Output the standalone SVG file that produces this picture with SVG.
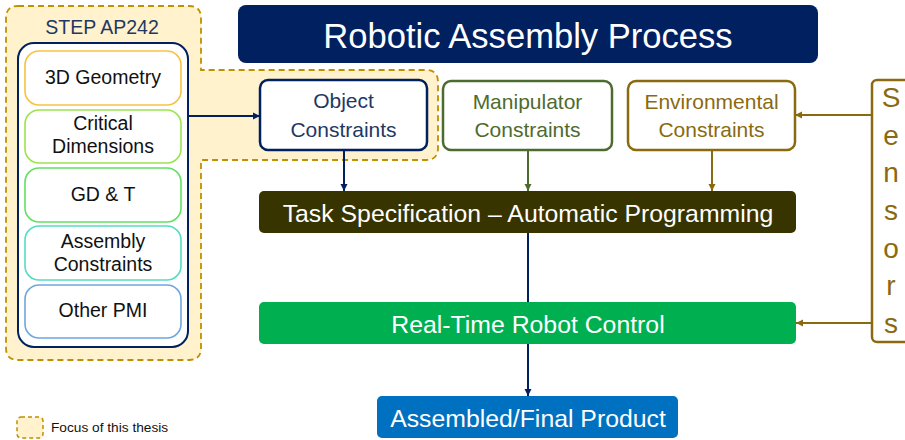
<svg xmlns="http://www.w3.org/2000/svg" width="905" height="440" viewBox="0 0 905 440">
<defs>
<style>
text{font-family:"Liberation Sans",Arial,sans-serif;text-anchor:middle}
.pmi{fill:#fff;stroke-width:1.6}
.pmit{font-size:19.5px;fill:#111}
.con{fill:#fff;stroke-width:2.5}
.cont{font-size:21px}
.wt{fill:#fff;font-size:24.8px}
.ln{fill:none;stroke-width:2}
</style>
<marker id="aN" markerUnits="userSpaceOnUse" markerWidth="8" markerHeight="8" refX="7" refY="4" orient="auto"><path d="M0,0.5 L7,4 L0,7.5 Z" fill="#002060"/></marker>
<marker id="aG" markerUnits="userSpaceOnUse" markerWidth="8" markerHeight="8" refX="7" refY="4" orient="auto"><path d="M0,0.5 L7,4 L0,7.5 Z" fill="#4e6b2f"/></marker>
<marker id="aB" markerUnits="userSpaceOnUse" markerWidth="8" markerHeight="8" refX="7" refY="4" orient="auto"><path d="M0,0.5 L7,4 L0,7.5 Z" fill="#8a6a10"/></marker>
</defs>
<rect width="905" height="440" fill="#fff"/>

<g id="focus">
<path d="M18,6 H189 Q201,6 201,18 V70 H426 Q438,70 438,82 V148 Q438,160 426,160 H201 V348 Q201,360 189,360 H18 Q6,360 6,348 V18 Q6,6 18,6 Z" fill="#fff2cc" stroke="#bf9000" stroke-width="1.8" stroke-dasharray="6,4"/>
</g>

<g id="title">
<rect x="238" y="5" width="580" height="58" rx="8" fill="#002060"/>
<text x="528" y="48" fill="#fff" font-size="34.6px">Robotic Assembly Process</text>
</g>

<g id="step">
<text x="102" y="34" font-size="19.5px" fill="#1f3864">STEP AP242</text>
<rect x="18" y="43" width="170" height="304" rx="16" fill="#fff" stroke="#002060" stroke-width="2"/>
</g>
<g id="geom"><rect class="pmi" x="25" y="51" width="156" height="54" rx="14" stroke="#f7c242"/><text class="pmit" x="103" y="84">3D Geometry</text></g>
<g id="crit"><rect class="pmi" x="25" y="110" width="156" height="53" rx="14" stroke="#9be34f"/><text class="pmit" x="103" y="130">Critical</text><text class="pmit" x="103" y="153">Dimensions</text></g>
<g id="gdt"><rect class="pmi" x="25" y="168" width="156" height="54" rx="14" stroke="#62e062"/><text class="pmit" x="103" y="201">GD &amp; T</text></g>
<g id="asm"><rect class="pmi" x="25" y="226" width="156" height="54" rx="14" stroke="#55dcc4"/><text class="pmit" x="103" y="248">Assembly</text><text class="pmit" x="103" y="271">Constraints</text></g>
<g id="pmi"><rect class="pmi" x="25" y="285" width="156" height="53" rx="14" stroke="#6fa6e0"/><text class="pmit" x="103" y="317">Other PMI</text></g>

<g id="object"><rect class="con" x="260" y="80" width="167" height="70" rx="8" stroke="#002060"/><text class="cont" x="343.5" y="108" fill="#1f3864">Object</text><text class="cont" x="343.5" y="137" fill="#1f3864">Constraints</text></g>
<g id="manip"><rect class="con" x="443" y="81" width="169" height="69" rx="8" stroke="#4e6b2f"/><text class="cont" x="527.5" y="109" fill="#4e6b2f">Manipulator</text><text class="cont" x="527.5" y="137" fill="#4e6b2f">Constraints</text></g>
<g id="env"><rect class="con" x="628" y="81" width="167" height="69" rx="8" stroke="#8a6a10"/><text class="cont" x="711.5" y="109" fill="#8a6a10">Environmental</text><text class="cont" x="711.5" y="137" fill="#8a6a10">Constraints</text></g>

<g id="sensors">
<rect x="872" y="80" width="60" height="262" rx="5" fill="#fff" stroke="#8a6a10" stroke-width="2.5"/>
<g font-size="28px" fill="#8a6a10">
<text x="891" y="107">S</text><text x="891" y="145">e</text><text x="891" y="182">n</text><text x="891" y="220">s</text><text x="891" y="258">o</text><text x="891" y="295">r</text><text x="891" y="333">s</text>
</g>
</g>

<g id="task"><rect x="259" y="191" width="537" height="42" rx="5" fill="#383400"/><text class="wt" x="528" y="222">Task Specification – Automatic Programming</text></g>
<g id="control"><rect x="259" y="302" width="537" height="42" rx="5" fill="#00b050"/><text class="wt" x="528" y="333">Real-Time Robot Control</text></g>
<g id="product"><rect x="377" y="396" width="301" height="42" rx="5" fill="#0070c0"/><text class="wt" x="528" y="427">Assembled/Final Product</text></g>

<g id="connectors">
<line class="ln" x1="188" y1="116" x2="260" y2="116" stroke="#002060" marker-end="url(#aN)"/>
<line class="ln" x1="344" y1="150" x2="344" y2="191" stroke="#002060" marker-end="url(#aN)"/>
<line class="ln" x1="528" y1="150" x2="528" y2="191" stroke="#4e6b2f" marker-end="url(#aG)"/>
<line class="ln" x1="712" y1="150" x2="712" y2="191" stroke="#8a6a10" marker-end="url(#aB)"/>
<line class="ln" x1="528" y1="233" x2="528" y2="302" stroke="#002060"/>
<line class="ln" x1="528" y1="344" x2="528" y2="396" stroke="#002060" marker-end="url(#aN)"/>
<line class="ln" x1="872" y1="115" x2="795" y2="115" stroke="#8a6a10" marker-end="url(#aB)"/>
<line class="ln" x1="872" y1="323" x2="796" y2="323" stroke="#8a6a10" marker-end="url(#aB)"/>
</g>

<g id="legend">
<rect x="17" y="417" width="26" height="21" rx="4" fill="#fff2cc" stroke="#bf9000" stroke-width="1.5" stroke-dasharray="4,3"/>
<text x="51" y="432" font-size="13.7px" fill="#111" style="text-anchor:start">Focus of this thesis</text>
</g>
</svg>
